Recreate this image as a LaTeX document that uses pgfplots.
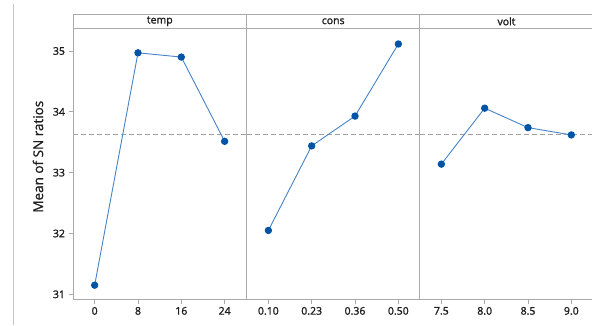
\documentclass[border=0pt]{standalone}
\usepackage{pgfplots}
\pgfplotsset{compat=1.18}
\usepackage{fontspec}
\setmainfont{Open Sans}
\newfontfamily\semib[FakeBold=1.6]{Open Sans}
\newfontfamily\medf[FakeBold=0.9]{Open Sans}
\definecolor{framegray}{RGB}{170,170,170}
\definecolor{dashgray}{RGB}{160,160,160}
\definecolor{linblue}{RGB}{70,130,200}
\definecolor{mkblue}{RGB}{0,84,166}
\definecolor{txt}{RGB}{30,30,30}
\pgfplotsset{panel/.style={
  scale only axis, width=173.3pt, height=270.7pt,
  ymin=30.923, ymax=35.373, xmin=-0.5, xmax=3.5,
  axis line style={draw=none},
  xtick={0,1,2,3},
  tick style={framegray, line width=0.8pt},
  major tick length=4.5pt,
  tick align=outside,
  xtick pos=bottom, ytick pos=left,
  tick label style={font=\semib\fontsize{10.5}{11}\selectfont, text=txt},
  /pgf/number format/assume math mode=true,
  clip=false,
}}
\begin{document}
\begin{tikzpicture}[x=1pt,y=1pt]
\useasboundingbox (0,0) rectangle (592,325);
% panel 1
\begin{axis}[panel, at={(73pt,26pt)}, anchor=south west,
  ytick={31,32,33,34,35}, xticklabels={0,8,16,24}]
\addplot[dashgray, line width=0.8pt, dash pattern=on 5pt off 3pt] coordinates {(-0.5,33.63) (3.5,33.63)};
\addplot[linblue, line width=0.9pt, mark=*, mark size=3.2pt, mark options={fill=mkblue, draw=mkblue}]
  coordinates {(0,31.15) (1,34.97) (2,34.90) (3,33.515)};
\end{axis}
% panel 2
\begin{axis}[panel, at={(246.7pt,26pt)}, anchor=south west,
  ytick=\empty, xticklabels={0.10,0.23,0.36,0.50}]
\addplot[dashgray, line width=0.8pt, dash pattern=on 5pt off 3pt] coordinates {(-0.5,33.63) (3.5,33.63)};
\addplot[linblue, line width=0.9pt, mark=*, mark size=3.2pt, mark options={fill=mkblue, draw=mkblue}]
  coordinates {(0,32.05) (1,33.44) (2,33.93) (3,35.115)};
\end{axis}
% panel 3
\begin{axis}[panel, at={(419.7pt,26pt)}, anchor=south west,
  ytick=\empty, xticklabels={7.5,8.0,8.5,9.0}]
\addplot[dashgray, line width=0.8pt, dash pattern=on 5pt off 3pt] coordinates {(-0.5,33.63) (3.5,33.63)};
\addplot[linblue, line width=0.9pt, mark=*, mark size=3.2pt, mark options={fill=mkblue, draw=mkblue}]
  coordinates {(0,33.14) (1,34.06) (2,33.74) (3,33.62)};
\end{axis}
% frame lines
\draw[framegray, line width=0.9pt] (73,310.7) -- (592,310.7);
\draw[framegray, line width=0.9pt] (73,296.7) -- (592,296.7);
\draw[framegray, line width=0.9pt] (73,26) -- (592,26);
\draw[framegray, line width=0.9pt] (73,26) -- (73,310.7);
\draw[framegray, line width=0.9pt] (246.7,26) -- (246.7,310.7);
\draw[framegray, line width=0.9pt] (419.7,26) -- (419.7,310.7);
\draw[framegray!70, line width=0.9pt] (13,0) -- (13,321);
% headers
\node[txt, font=\semib\fontsize{10.5}{11}\selectfont] at (159.8,303.7) {temp};
\node[txt, font=\semib\fontsize{10.5}{11}\selectfont] at (333.2,303.7) {cons};
\node[txt, font=\semib\fontsize{10.5}{11}\selectfont] at (506.5,303.7) {volt};
% y label
\node[txt, rotate=90, font=\medf\fontsize{13.5}{15}\selectfont] at (38,168.3) {Mean of SN ratios};
\end{tikzpicture}
\end{document}
